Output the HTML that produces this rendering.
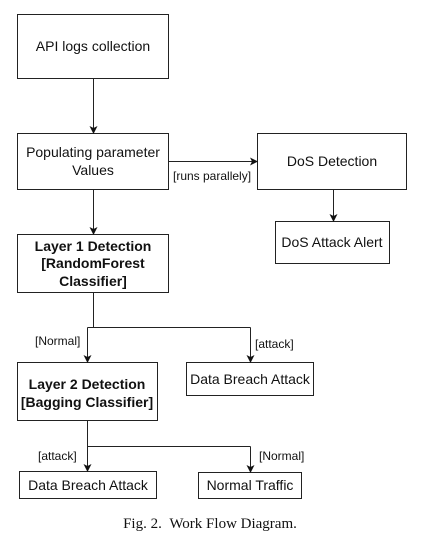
<!DOCTYPE html>
<html><head><meta charset="utf-8"><style>
html,body{margin:0;padding:0;background:#fff;width:435px;height:535px;overflow:hidden}
svg{display:block}
text{font-family:"Liberation Sans",Arial,sans-serif;fill:#111}
</style></head><body>
<svg width="435" height="535" viewBox="0 0 435 535" xmlns="http://www.w3.org/2000/svg">
<defs><marker id="a" markerWidth="8" markerHeight="8" refX="7" refY="4" orient="auto" markerUnits="userSpaceOnUse"><path d="M0,0 L8,4 L0,8 L2,4 z" fill="#111"/></marker></defs>
<g fill="none" stroke="#222" stroke-width="1">
<rect x="17.5" y="14.5" width="151" height="64"/>
<rect x="17.5" y="133.5" width="151" height="56"/>
<rect x="257.5" y="133.5" width="149" height="56"/>
<rect x="275.5" y="221.5" width="114" height="42"/>
<rect x="17.5" y="234.5" width="151" height="58"/>
<rect x="17.5" y="362.5" width="140" height="58"/>
<rect x="186.5" y="362.5" width="127" height="33"/>
<rect x="19.5" y="471.5" width="137" height="27"/>
<rect x="198.5" y="472.5" width="103" height="26"/>
<line x1="93.5" y1="79" x2="93.5" y2="133" marker-end="url(#a)"/>
<line x1="168" y1="161.5" x2="257" y2="161.5" marker-end="url(#a)"/>
<line x1="333.5" y1="190" x2="333.5" y2="221" marker-end="url(#a)"/>
<line x1="93.5" y1="190" x2="93.5" y2="234" marker-end="url(#a)"/>
<line x1="93.5" y1="293" x2="93.5" y2="327.5"/>
<line x1="87.5" y1="327.5" x2="250.5" y2="327.5"/>
<line x1="87.5" y1="327.5" x2="87.5" y2="362" marker-end="url(#a)"/>
<line x1="250.5" y1="327.5" x2="250.5" y2="362" marker-end="url(#a)"/>
<line x1="87.5" y1="421" x2="87.5" y2="471" marker-end="url(#a)"/>
<line x1="87.5" y1="446.5" x2="250.5" y2="446.5"/>
<line x1="250.5" y1="446.5" x2="250.5" y2="472" marker-end="url(#a)"/>
</g>
<g font-size="14" text-anchor="middle">
<text x="93" y="51">API logs collection</text>
<text x="93" y="157">Populating parameter</text>
<text x="93" y="175">Values</text>
<text x="332" y="166">DoS Detection</text>
<text x="332" y="247">DoS Attack Alert</text>
<text x="93" y="251" font-weight="bold">Layer 1 Detection</text>
<text x="93" y="268" font-weight="bold">[RandomForest</text>
<text x="93" y="286" font-weight="bold">Classifier]</text>
<text x="87" y="389" font-weight="bold">Layer 2 Detection</text>
<text x="87" y="407" font-weight="bold">[Bagging Classifier]</text>
<text x="250" y="384">Data Breach Attack</text>
<text x="88" y="490">Data Breach Attack</text>
<text x="250" y="490">Normal Traffic</text>
</g>
<g font-size="12">
<text x="173" y="180">[runs parallely]</text>
<text x="35" y="345">[Normal]</text>
<text x="255" y="348">[attack]</text>
<text x="38" y="460">[attack]</text>
<text x="259" y="460">[Normal]</text>
</g>
<text x="210" y="528" font-size="15" text-anchor="middle" style="font-family:'Liberation Serif','Times New Roman',serif">Fig. 2.&#160;&#160;Work Flow Diagram.</text>
</svg>
</body></html>
